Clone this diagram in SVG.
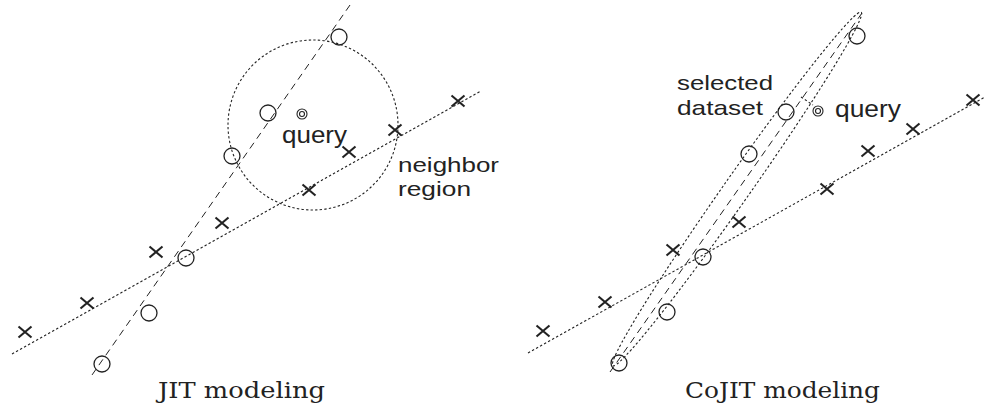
<svg xmlns="http://www.w3.org/2000/svg" xmlns:xlink="http://www.w3.org/1999/xlink" width="987" height="410" viewBox="0 0 987 410">
<defs>
<style>
.dash{fill:none;stroke:#222;stroke-width:1;stroke-dasharray:7,5}
.dot{fill:none;stroke:#222;stroke-width:1.1;stroke-dasharray:2.4,2.2}
.pt{fill:none;stroke:#222;stroke-width:1.3}
.xm{fill:none;stroke:#222;stroke-width:2.1}
.q{fill:none;stroke:#222;stroke-width:1.1}
.lbl{font-family:"Liberation Sans",Arial,sans-serif;font-size:23px;fill:#222}
.lbs{font-family:"Liberation Sans",Arial,sans-serif;font-size:21px;fill:#222}
.cap{font-family:"DejaVu Serif","Liberation Serif",serif;font-size:23px;fill:#222}
</style>
<path id="x" d="M-6.5,-5.5L6.5,5.5M6.5,-5.5L-6.5,5.5"/>
</defs>
<rect width="987" height="410" fill="#fff"/>

<g id="jit">
<g id="jit-lines">
<line class="dash" x1="350" y1="5" x2="92" y2="375"/>
<line class="dot" x1="12" y1="354" x2="481" y2="91"/>
<circle id="neighbor-region" class="dot" cx="313" cy="125" r="85"/>
</g>
<g id="jit-circles">
<circle class="pt" cx="339" cy="37" r="8"/>
<circle class="pt" cx="268" cy="113" r="8"/>
<circle class="pt" cx="232" cy="156" r="8"/>
<circle class="pt" cx="186" cy="258" r="8"/>
<circle class="pt" cx="149" cy="313" r="8"/>
<circle class="pt" cx="102" cy="364" r="8"/>
</g>
<g id="jit-crosses" class="xm">
<use xlink:href="#x" x="458" y="101"/>
<use xlink:href="#x" x="395" y="130"/>
<use xlink:href="#x" x="349" y="152"/>
<use xlink:href="#x" x="309" y="190"/>
<use xlink:href="#x" x="222" y="223"/>
<use xlink:href="#x" x="156" y="252"/>
<use xlink:href="#x" x="87" y="303"/>
<use xlink:href="#x" x="25" y="332"/>
</g>
<g id="jit-query">
<circle class="q" cx="302" cy="114" r="5"/>
<circle class="q" cx="302" cy="114" r="2.5"/>
<text class="lbl" x="282" y="143" textLength="65" lengthAdjust="spacingAndGlyphs">query</text>
</g>
<g id="jit-neighbor-label">
<text class="lbs" x="398" y="172" textLength="101" lengthAdjust="spacingAndGlyphs">neighbor</text>
<text class="lbs" x="398" y="196" textLength="73" lengthAdjust="spacingAndGlyphs">region</text>
</g>
<text id="jit-caption" class="cap" x="158" y="398" textLength="167" lengthAdjust="spacingAndGlyphs">JIT modeling</text>
</g>

<g id="cojit">
<g id="cojit-lines">
<line class="dash" x1="862" y1="13" x2="610" y2="372"/>
<line class="dot" x1="528" y1="353" x2="985" y2="97"/>
<ellipse id="selected-dataset" class="dot" cx="737" cy="189" rx="216" ry="13" transform="rotate(-54.9 737 189)"/>
<line class="dot" x1="801" y1="97" x2="813" y2="105"/>
</g>
<g id="cojit-circles">
<circle class="pt" cx="857" cy="36" r="8"/>
<circle class="pt" cx="786" cy="112" r="8"/>
<circle class="pt" cx="749" cy="154" r="8"/>
<circle class="pt" cx="703" cy="257" r="8"/>
<circle class="pt" cx="667" cy="312" r="8"/>
<circle class="pt" cx="619" cy="363" r="8"/>
</g>
<g id="cojit-crosses" class="xm">
<use xlink:href="#x" x="973" y="100"/>
<use xlink:href="#x" x="913" y="129"/>
<use xlink:href="#x" x="868" y="151"/>
<use xlink:href="#x" x="827" y="189"/>
<use xlink:href="#x" x="739" y="222"/>
<use xlink:href="#x" x="673" y="250"/>
<use xlink:href="#x" x="605" y="302"/>
<use xlink:href="#x" x="543" y="331"/>
</g>
<g id="cojit-query">
<circle class="q" cx="818" cy="111" r="5"/>
<circle class="q" cx="818" cy="111" r="2.5"/>
<text class="lbl" x="835" y="117" textLength="66" lengthAdjust="spacingAndGlyphs">query</text>
</g>
<g id="cojit-selected-label">
<text class="lbs" x="677" y="90" textLength="96" lengthAdjust="spacingAndGlyphs">selected</text>
<text class="lbs" x="677" y="115" textLength="86" lengthAdjust="spacingAndGlyphs">dataset</text>
</g>
<text id="cojit-caption" class="cap" x="685" y="398" textLength="195" lengthAdjust="spacingAndGlyphs">CoJIT modeling</text>
</g>
</svg>
